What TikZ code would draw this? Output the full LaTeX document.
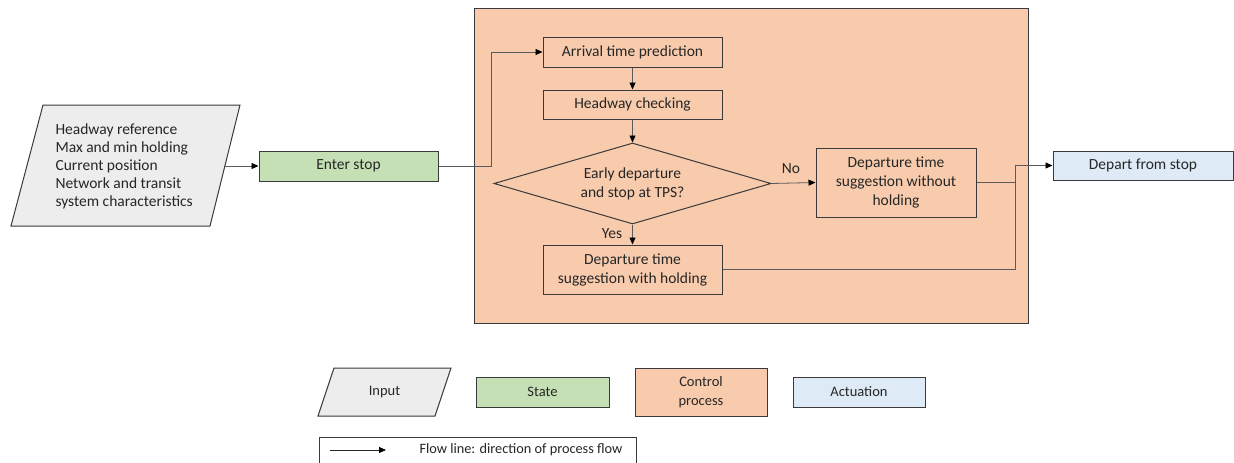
\documentclass[tikz,border=0pt]{standalone}
\usepackage{fontspec}
\setmainfont{Carlito}
\usetikzlibrary{arrows.meta,shapes.geometric,positioning}
\definecolor{inpfill}{HTML}{EDEDED}
\definecolor{statefill}{HTML}{C5E0B4}
\definecolor{ctrlfill}{HTML}{F8CBAD}
\definecolor{actfill}{HTML}{DEEBF7}
\definecolor{edge}{HTML}{3A3A3A}
\definecolor{wire}{HTML}{5A5A5A}
\definecolor{ink}{HTML}{262626}
\tikzset{
  x=1pt, y=-1pt,
  every node/.style={text=ink, font=\fontsize{15.5}{19}\selectfont},
  box/.style={draw=edge, line width=1pt, rectangle, inner sep=0pt, align=center},
  tip/.style={-{Triangle[length=7pt,width=6pt,color=black]}},
  flow/.style={draw=wire, line width=0.8pt, tip},
  plain/.style={draw=wire, line width=0.8pt},
  lbl/.style={font=\fontsize{15.5}{18}\selectfont},
  small/.style={font=\fontsize{14.5}{19}\selectfont},
}
\begin{document}
\begin{tikzpicture}
\useasboundingbox[fill=white] (0,0) rectangle (1234,463);

% control process background
\draw[fill=ctrlfill, draw=edge, line width=1pt] (474,8) rectangle (1028,323);

% input parallelogram
\draw[fill=inpfill, draw=edge, line width=1pt] (43,105) -- (240,105) -- (210,226) -- (11,226) -- cycle;
\node[align=left, anchor=west, font=\fontsize{15.5}{18}\selectfont] (inp) at (52,166) {Headway reference\\Max and min holding\\Current position\\Network and transit\\system characteristics};
\coordinate (inR) at (225,166);

% states and steps
\node[box, fill=statefill, minimum width=179pt, minimum height=30pt] (enter) at (348.5,166) {Enter stop};
\node[box, minimum width=179pt, minimum height=30pt] (arr) at (632.5,52) {Arrival time prediction};
\node[box, minimum width=179pt, minimum height=29pt] (hw) at (632.5,104.5) {Headway checking};
\node[diamond, draw=edge, line width=1pt, aspect=3.4, inner sep=0pt, minimum width=277pt, minimum height=81pt, align=center] (dec) at (632.5,183.5) {Early departure\\and stop at TPS?};
\node[box, minimum width=179pt, minimum height=49pt] (hold) at (632.5,269.5) {Departure time\\suggestion with holding};
\node[box, minimum width=160pt, minimum height=69pt] (nohold) at (896,182.5) {Departure time\\suggestion without\\holding};
\node[box, fill=actfill, minimum width=180pt, minimum height=29pt] (dep) at (1143,165.5) {Depart from stop};

% branch labels
\node[lbl] (yes) at (612,234) {Yes};
\node[lbl] (no) at (791,169) {No};

% connectors
\draw[flow] (inR) -- (enter.west);
\coordinate (j1) at (491,166);
\draw[flow] (enter.east) -- (j1) |- (arr.west);
\draw[flow] (arr) -- (hw);
\draw[flow] (hw) -- (dec.north);
\draw[flow] (dec.south) -- (hold);
\draw[flow] (dec.east) -- (nohold.west);
\coordinate (j2) at (1015,182.5);
\coordinate (j3) at (1015,165.5);
\draw[plain] (nohold.east) -- (j2);
\draw[plain] (hold.east) -| (j2);
\draw[flow] (j2) -- (j3) -- (dep.west);

% legend
\draw[fill=inpfill, draw=edge, line width=1pt] (334,368) -- (451,368) -- (435,416) -- (318,416) -- cycle;
\node[small] (lgin) at (384.5,392) {Input};
\node[box, fill=statefill, minimum width=133pt, minimum height=30pt, small] (lgst) at (542.5,392) {State};
\node[box, fill=ctrlfill, minimum width=132pt, minimum height=48pt, small] (lgct) at (701,392) {Control\\process};
\node[box, fill=actfill, minimum width=132pt, minimum height=30pt, small] (lgac) at (859,392) {Actuation};

\draw[draw=edge, line width=1pt] (319,470) -- (319,437) -- (636,437) -- (636,470);
\coordinate (fa) at (330,450);
\coordinate (fb) at (386,450);
\draw[draw=ink, line width=0.8pt, tip] (fa) -- (fb);
\node[font=\fontsize{14.3}{16}\selectfont, anchor=west] (lgfl) at (416,450) {Flow line: direction of process flow};
\end{tikzpicture}
\end{document}
